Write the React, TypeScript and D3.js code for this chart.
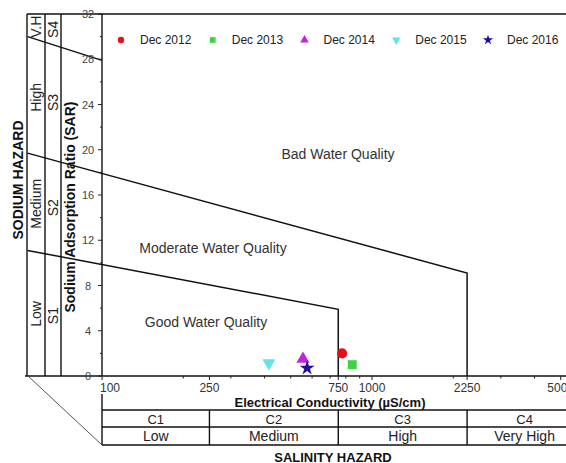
import * as d3 from 'd3';

// sampling campaigns
const categories = ['Dec 2012', 'Dec 2013', 'Dec 2014', 'Dec 2015', 'Dec 2016'];
const ecValues = [775, 845, 555, 415, 575];
const sarValues = [2.0, 1.0, 1.5, 1.15, 0.7];
const colors = ['#e3101a', '#3bd43f', '#c224d9', '#62e4ea', '#1f0e9e'];

// axis ticks
const ecTicks = [100, 250, 750, 1000, 2250, 5000];
const ecMinorTicks = [200, 300, 400, 500, 600, 700, 800, 900, 2000, 3000, 4000];
const sarTicks = [0, 4, 8, 12, 16, 20, 24, 28, 32];
const sarMinorTicks = [2, 6, 10, 14, 18, 22, 26, 30];

// salinity hazard table
const salinityBreaks = [100, 250, 750, 2250, 6000];
const salinityClasses = ['C1', 'C2', 'C3', 'C4'];
const salinityLabels = ['Low', 'Medium', 'High', 'Very High'];

// sodium hazard side panel
const sodiumClasses = ['S1', 'S2', 'S3', 'S4'];
const sodiumLabels = ['Low', 'Medium', 'High', 'V.H'];

// class boundaries [EC, SAR]
const goodLine: [number, number][] = [[53, 11.1], [750, 5.9], [750, 0]];
const moderateLine: [number, number][] = [[53, 19.7], [2250, 9.1], [2250, 0]];
const badLine: [number, number][] = [[53, 30], [100, 27.9]];

const W = 566;
const H = 463;
const font = "'Liberation Sans', Arial, sans-serif";

export default function App() {
  const x = d3.scaleLog().domain([100, 6000]).range([102, 102 + 270 * Math.log10(60)]);
  const y = d3.scaleLinear().domain([0, 32]).range([376, 14]);
  const line = d3
    .line<[number, number]>()
    .x((d) => x(d[0]))
    .y((d) => y(d[1]));

  const top = y(32);
  const base = y(0);
  const axisX = x(100);
  const panel = [27, 45, 61];
  const right = x(6000);

  // y of a boundary's first segment at a given pixel x
  const yAt = (pts: [number, number][], px: number) => {
    const x0 = x(pts[0][0]), x1 = x(pts[1][0]);
    const y0 = y(pts[0][1]), y1 = y(pts[1][1]);
    return y0 + ((px - x0) / (x1 - x0)) * (y1 - y0);
  };
  const bandMid = (i: number, px: number) => {
    const edges = [base, yAt(goodLine, px), yAt(moderateLine, px), yAt(badLine, px), top];
    return (edges[i] + edges[i + 1]) / 2;
  };

  const symbols = [d3.symbolCircle, d3.symbolSquare, d3.symbolTriangle, d3.symbolTriangle, d3.symbolStar];
  const sizes = [80, 80, 75, 75, 70];
  const rot = [0, 0, 0, 180, 0];

  const tableTop = 410, tableMid = 427, tableBot = 445;

  return (
    <svg
      width={W}
      height={H}
      style={{ position: 'absolute', left: 0, top: 0, background: '#fff' }}
      fontFamily={font}
    >
      {/* frame */}
      <g stroke="#111" strokeWidth={1.4} fill="none">
        <line x1={panel[0]} x2={W + 20} y1={top} y2={top} />
        <line x1={25} x2={W + 20} y1={base} y2={base} />
        {panel.map((px) => (
          <line key={px} x1={px} x2={px} y1={top} y2={base} />
        ))}
        <line x1={axisX} x2={axisX} y1={top} y2={base} />
        <line x1={28} x2={axisX} y1={base} y2={tableBot} strokeWidth={1} stroke="#555" />
      </g>

      {/* boundaries */}
      <g stroke="#111" strokeWidth={1.5} fill="none">
        <path d={line(goodLine) ?? ''} />
        <path d={line(moderateLine) ?? ''} />
        <path d={line(badLine) ?? ''} />
      </g>

      {/* y axis ticks */}
      <g stroke="#222" strokeWidth={1}>
        {sarTicks.map((t) => (
          <line key={t} x1={axisX - 4} x2={axisX} y1={y(t)} y2={y(t)} />
        ))}
        {sarMinorTicks.map((t) => (
          <line key={t} x1={axisX - 2} x2={axisX} y1={y(t)} y2={y(t)} />
        ))}
      </g>
      {sarTicks.map((t) => (
        <text key={t} x={88} y={y(t)} fontSize={11} fill="#444" textAnchor="middle" dominantBaseline="central">
          {t}
        </text>
      ))}

      {/* x axis ticks */}
      <g stroke="#222" strokeWidth={1}>
        {ecTicks.map((t) => (
          <line key={t} x1={x(t)} x2={x(t)} y1={base} y2={base + 4} />
        ))}
        {ecMinorTicks.map((t) => (
          <line key={t} x1={x(t)} x2={x(t)} y1={base} y2={base + 2.5} />
        ))}
      </g>
      {ecTicks.map((t) => (
        <text key={t} x={t === 100 ? x(t) + 8 : x(t)} y={392} fontSize={12} fill="#333" textAnchor="middle">
          {t}
        </text>
      ))}
      <text x={330} y={407} fontSize={13} fontWeight="bold" fill="#111" textAnchor="middle">
        Electrical Conductivity (µS/cm)
      </text>

      {/* salinity table */}
      <g stroke="#111" strokeWidth={1.4}>
        <line x1={axisX} x2={W + 20} y1={tableTop} y2={tableTop} />
        <line x1={axisX} x2={W + 20} y1={tableMid} y2={tableMid} />
        <line x1={axisX} x2={W + 20} y1={tableBot} y2={tableBot} />
        <line x1={axisX} x2={axisX} y1={394} y2={tableBot} />
        {salinityBreaks.slice(1, -1).map((b) => (
          <line key={b} x1={x(b)} x2={x(b)} y1={tableTop} y2={tableBot} />
        ))}
      </g>
      {salinityClasses.map((c, i) => {
        const cx = (x(salinityBreaks[i]) + Math.min(x(salinityBreaks[i + 1]), right)) / 2;
        return (
          <g key={c} fill="#222" textAnchor="middle">
            <text x={cx} y={423.5} fontSize={13}>{c}</text>
            <text x={cx} y={441} fontSize={14}>{salinityLabels[i]}</text>
          </g>
        );
      })}
      <text x={333} y={462} fontSize={13} fontWeight="bold" fill="#111" textAnchor="middle">
        SALINITY HAZARD
      </text>

      {/* sodium panel */}
      {sodiumClasses.map((s, i) => (
        <g key={s} fill="#222" fontSize={14} textAnchor="middle" dominantBaseline="central">
          <text transform={`translate(36,${bandMid(i, 36)}) rotate(-90)`}>{sodiumLabels[i]}</text>
          <text transform={`translate(53,${bandMid(i, 53)}) rotate(-90)`}>{s}</text>
        </g>
      ))}
      <text
        transform="translate(70,207) rotate(-90)"
        fontSize={14}
        fontWeight="bold"
        fill="#111"
        textAnchor="middle"
        dominantBaseline="central"
      >
        Sodium Adsorption Ratio (SAR)
      </text>
      <text
        transform="translate(18,180) rotate(-90)"
        fontSize={14}
        fontWeight="bold"
        fill="#111"
        textAnchor="middle"
        dominantBaseline="central"
      >
        SODIUM HAZARD
      </text>

      {/* zone labels */}
      <g fontSize={14} fill="#333" textAnchor="middle" dominantBaseline="central">
        <text x={338} y={154}>Bad Water Quality</text>
        <text x={213} y={248}>Moderate Water Quality</text>
        <text x={206} y={322}>Good Water Quality</text>
      </g>

      {/* points */}
      {categories.map((c, i) => (
        <path
          key={c}
          d={d3.symbol().type(symbols[i]).size(sizes[i])() ?? ''}
          transform={`translate(${x(ecValues[i])},${y(sarValues[i])}) rotate(${rot[i]})`}
          fill={colors[i]}
        />
      ))}

      {/* legend */}
      {categories.map((c, i) => {
        const lx = 121 + i * 91.75;
        return (
          <g key={c}>
            <path
              d={d3.symbol().type(symbols[i]).size(32)() ?? ''}
              transform={`translate(${lx},40) rotate(${rot[i]})`}
              fill={colors[i]}
            />
            <text x={lx + 19} y={40} fontSize={12} fill="#222" dominantBaseline="central">
              {c}
            </text>
          </g>
        );
      })}
    </svg>
  );
}
